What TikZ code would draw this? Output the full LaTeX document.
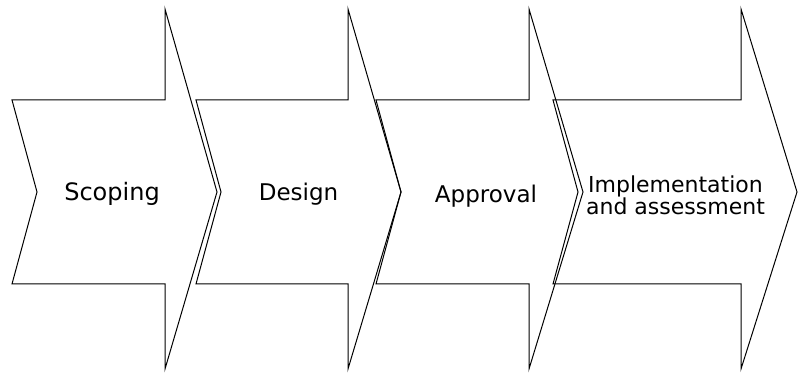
\documentclass[tikz,border=0pt]{standalone}
\usepackage{fontspec}
\usepackage{tikz}
\newfontfamily\stagefont{DejaVu Sans}

\tikzset{
  stagearrow/.style={draw=black, line width=1pt, line join=miter},
  stagelabel/.style={font=\stagefont, text=black, inner sep=0pt}
}

\begin{document}
\begin{tikzpicture}[x=1pt, y=1pt]
\useasboundingbox (0,0) rectangle (798,377);
% the four chevron arrows: left corner / shaft end / tip
\foreach \xa/\xs/\xt in {12/165/217, 196/348/401, 376/529/583, 553/741/797}{
  \draw[stagearrow] (\xa,277) -- (\xs,277) -- (\xs,368) -- (\xt,185)
    -- (\xs,8) -- (\xs,93) -- (\xa,93) -- ({\xa+25},185) -- cycle;
}
% stage names
\node[stagelabel, anchor=base, font=\stagefont\fontsize{24}{26}\selectfont] (scoping) at (112,176) {Scoping};
\node[stagelabel, anchor=base, font=\stagefont\fontsize{23}{25}\selectfont] (design) at (298.5,176) {Design};
\node[stagelabel, anchor=base, font=\stagefont\fontsize{23}{25}\selectfont] (approval) at (486,174) {Approval};
\node[stagelabel, align=center, font=\stagefont\fontsize{22}{22}\selectfont] (implementation) at (675.5,181.3) {Implementation\\and assessment};
\end{tikzpicture}
\end{document}
